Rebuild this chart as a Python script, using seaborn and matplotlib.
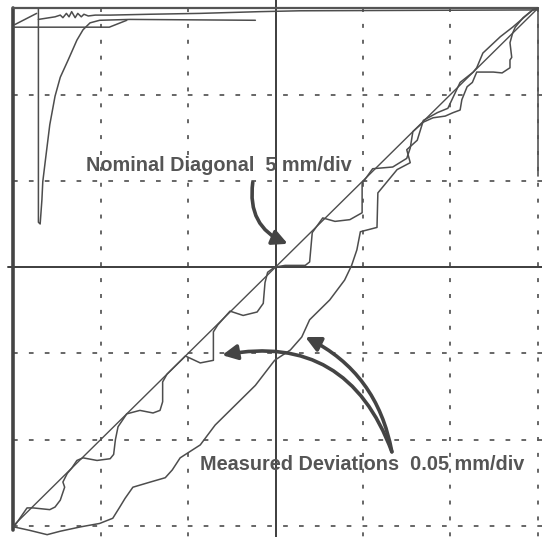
import matplotlib
matplotlib.use("Agg")
import matplotlib.pyplot as plt
import seaborn as sns
import pandas as pd

sns.set_style("white")
plt.rcParams['font.family'] = ['Liberation Sans', 'DejaVu Sans']

# ---- data (screen divisions, 0..6 on both axes) ----
diag_x = [0.0, 6.0]
diag_y = [0.0, 6.0]

# staircase trace that hugs the nominal diagonal
stair_x = [0.01, 0.16, 0.23, 0.42, 0.48, 0.54, 0.59, 0.57, 0.62, 0.67, 0.73, 0.80, 0.96, 1.11,
           1.15, 1.17, 1.20, 1.30, 1.45, 1.60, 1.68, 1.71, 1.71, 1.76, 1.97, 2.14, 2.29, 2.29,
           2.34, 2.48, 2.63, 2.79, 2.86, 2.88, 2.91, 2.99, 3.11, 3.34, 3.39, 3.42, 3.54, 3.68,
           3.85, 3.99, 3.99, 4.11, 4.34, 4.50, 4.54, 4.57, 4.69, 4.80, 4.94, 5.03, 5.11, 5.13,
           5.19, 5.25, 5.30, 5.37, 5.49, 5.59, 5.68, 5.68, 5.70, 5.68, 5.71, 5.74, 5.83, 5.94, 6.0]
stair_y = [-0.01, 0.21, 0.21, 0.19, 0.22, 0.30, 0.45, 0.51, 0.61, 0.67, 0.76, 0.79, 0.76, 0.78,
           0.83, 1.00, 1.15, 1.30, 1.34, 1.31, 1.34, 1.44, 1.67, 1.76, 1.97, 1.89, 1.92, 2.25,
           2.33, 2.49, 2.44, 2.48, 2.58, 2.82, 2.94, 3.00, 3.02, 3.02, 3.06, 3.40, 3.57, 3.53,
           3.55, 3.63, 3.97, 4.14, 4.16, 4.26, 4.38, 4.57, 4.68, 4.73, 4.75, 4.79, 4.82, 4.94,
           5.09, 5.14, 5.26, 5.26, 5.26, 5.25, 5.31, 5.40, 5.43, 5.60, 5.71, 5.78, 5.89, 5.98, 6.0]

# lower, smoother deviation trace
lower_x = [0.01, 0.19, 0.39, 0.54, 0.77, 0.99, 1.14, 1.22, 1.28, 1.37, 1.57, 1.74, 1.82, 1.91,
           2.14, 2.31, 2.54, 2.77, 2.99, 3.17, 3.30, 3.39, 3.62, 3.79, 3.87, 3.93, 3.97, 4.16,
           4.17, 4.39, 4.54, 4.50, 4.62, 4.69, 4.85, 4.97, 5.11, 5.26, 5.30, 5.37, 5.57, 5.71,
           5.94, 6.0]
lower_y = [-0.01, -0.05, -0.10, -0.06, -0.01, 0.03, 0.09, 0.22, 0.32, 0.45, 0.51, 0.56, 0.65,
           0.79, 0.94, 1.17, 1.40, 1.63, 1.92, 2.04, 2.19, 2.39, 2.62, 2.85, 3.02, 3.20, 3.41,
           3.46, 3.86, 4.13, 4.21, 4.36, 4.47, 4.70, 4.79, 4.84, 5.14, 5.26, 5.31, 5.48, 5.67,
           5.78, 5.98, 6.0]

# transient recovery trace (top left)
trans_x = [0.29, 0.29, 0.31, 0.33, 0.34, 0.37, 0.42, 0.48, 0.54, 0.63, 0.73, 0.80, 0.88, 0.99,
           1.34, 2.77]
trans_y = [5.99, 3.52, 3.50, 3.78, 3.99, 4.24, 4.65, 4.98, 5.20, 5.40, 5.63, 5.75, 5.83, 5.86,
           5.87, 5.86]

# noisy trace along the top edge
noise_x = [0.29, 0.48, 0.54, 0.57, 0.61, 0.64, 0.67, 0.71, 0.74, 0.78, 0.81, 0.86, 0.94, 1.11,
           1.57, 2.14, 2.82, 3.28, 6.0]
noise_y = [5.87, 5.90, 5.92, 5.89, 5.94, 5.90, 5.96, 5.89, 5.94, 5.90, 5.93, 5.91, 5.92, 5.92,
           5.93, 5.94, 5.96, 5.97, 5.98]

# short reference lines at top left
ref_x = [0.0, 1.1, 1.3]
ref_y = [5.78, 5.78, 5.86]
slant_x = [0.02, 0.27]
slant_y = [5.81, 5.94]

grid_div = [0, 1, 2, 4, 5, 6]

line_col = '#4d4d4d'
txt_col = '#555555'

fig = plt.figure(figsize=(5.42, 5.37), dpi=100)
ax = fig.add_axes([0, 0, 1, 1])
ax.set_xlim(-0.149, 6.046)
ax.set_ylim(-0.127, 6.095)
ax.axis('off')

# dashed graticule
for g in grid_div:
    if g > 0:
        ax.plot([g, g], [6.0, -0.2], color='#5a5a5a', lw=1.3, ls=(0, (2.2, 6.6)))
    if g < 6:
        ax.plot([0.0, 6.2], [g, g], color='#5a5a5a', lw=1.3, ls=(0, (2.6, 6.2)))
# centre crosshair
ax.plot([3, 3], [6.1, -0.2], color='#3d3d3d', lw=1.4)
ax.plot([-0.06, 6.2], [3, 3], color='#3d3d3d', lw=1.4)
# frame
ax.plot([0, 0], [-0.05, 6.0], color='#444444', lw=2.6)
ax.plot([0, 6.0], [6.0, 6.0], color='#555555', lw=1.6)
ax.plot([6.0, 6.0], [6.0, 4.05], color='#555555', lw=1.2)

def trace(xs, ys, lw=1.1):
    df = pd.DataFrame({'x': xs, 'y': ys})
    sns.lineplot(data=df, x='x', y='y', sort=False, estimator=None, ax=ax,
                 color=line_col, lw=lw)

trace(diag_x, diag_y, 1.0)
trace(stair_x, stair_y)
trace(lower_x, lower_y)
trace(trans_x, trans_y)
trace(noise_x, noise_y)
trace(ref_x, ref_y)
trace(slant_x, slant_y)

ax.text(0.83, 4.18, 'Nominal Diagonal  5 mm/div', fontsize=14.3, fontweight='bold',
        color=txt_col, ha='left', va='center')
ax.text(2.14, 0.71, 'Measured Deviations  0.05 mm/div', fontsize=14.3, fontweight='bold',
        color=txt_col, ha='left', va='center')

arrow_kw = dict(arrowstyle='-|>,head_length=0.9,head_width=0.45', lw=2.6, color='#444444',
                shrinkA=0, shrinkB=0)
ax.annotate('', xy=(3.14, 3.27), xytext=(2.74, 3.98),
            arrowprops=dict(connectionstyle='arc3,rad=0.38', **arrow_kw))
ax.annotate('', xy=(2.39, 1.98), xytext=(4.33, 0.86),
            arrowprops=dict(connectionstyle='arc3,rad=0.42', **arrow_kw))
ax.annotate('', xy=(3.34, 2.19), xytext=(4.33, 0.86),
            arrowprops=dict(connectionstyle='arc3,rad=0.25', **arrow_kw))

fig.savefig('out.png', dpi=100)
